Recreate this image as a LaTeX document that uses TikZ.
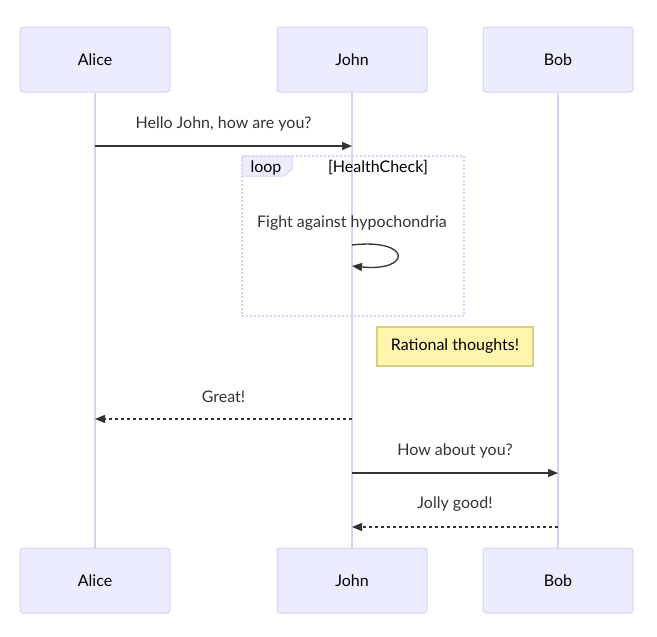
\documentclass[tikz,border=0pt]{standalone}
\usepackage{fontspec}
\setmainfont{Lato}
\usetikzlibrary{arrows.meta,positioning}

\definecolor{actfill}{HTML}{ECECFF}
\definecolor{actline}{HTML}{D9D0F3}
\definecolor{notefill}{HTML}{FFF5AD}
\definecolor{noteline}{HTML}{D3CF85}
\definecolor{msgcol}{HTML}{333333}

\tikzset{
  actor/.style={draw=actline, fill=actfill, rounded corners=3pt, line width=1pt,
    minimum width=150pt, minimum height=65pt, font=\fontsize{16}{19}\selectfont},
  lifeline/.style={draw=actline, line width=1.2pt},
  msg/.style={draw=msgcol, line width=1.3pt, -{Triangle[length=10pt,width=8pt]}},
  reply/.style={msg, dash pattern=on 3pt off 3pt},
  msglabel/.style={text=msgcol, font=\fontsize{16}{19}\selectfont, yshift=-1.5pt},
  loopline/.style={draw=actline, line width=1.5pt, dash pattern=on 2pt off 2pt},
  notebox/.style={draw=noteline, fill=notefill, line width=1.2pt,
    minimum width=156pt, minimum height=39pt, font=\fontsize{16}{19}\selectfont}
}

\begin{document}
\begin{tikzpicture}[x=1pt, y=-1pt]
    \useasboundingbox (0,0) rectangle (657,637);

    % Actors
    \foreach \name/\x/\label in {alice/95/Alice, john/352/John, bob/558/Bob}{
      \node[actor] (\name) at (\x,59.5) {\raisebox{-1pt}{\label}};
      \node[actor] (\name bot) at (\x,580.5) {\raisebox{-1pt}{\label}};
    }

    % Lifelines
    \foreach \name in {alice, john, bob}
    \draw[lifeline] (\name) -- (\name bot);

    % Loop box
    \draw[loopline] (242,156) rectangle (464,316);
    \draw[draw=actline, fill=actfill, line width=1pt] (242,156) -- (292,156) -- (292,169) -- (284,176) -- (242,176) -- cycle;
    \node[msglabel, text=black] (looptag) at (266,166.5) {loop};
    \node[msglabel, text=black] (loopcond) at (378,166.5) {[HealthCheck]};

    % Self message
    \node[msglabel] (m2) at (352,222) {Fight against hypochondria};
    \coordinate (selfa) at (john |- 0,245);
    \coordinate (selfb) at (john |- 0,266);
    \draw[msg] (selfa) .. controls (412,238) and (412,272) .. (selfb);

    % Note
    \node[notebox] (note) at (455,346.5) {\raisebox{-1.5pt}{Rational thoughts!}};

    % Messages
    \node[msglabel] (m1) at (223.5,122) {Hello John, how are you?};
    \draw[msg] (alice |- 0,146) -- (john |- 0,146);

    \node[msglabel] (m3) at (223.5,395) {Great!};
    \draw[reply] (john |- 0,419) -- (alice |- 0,419);

    \node[msglabel] (m4) at (455,449) {How about you?};
    \draw[msg] (john |- 0,473) -- (bob |- 0,473);

    \node[msglabel] (m5) at (455,503) {Jolly good!};
    \draw[reply] (bob |- 0,527) -- (john |- 0,527);
\end{tikzpicture}
\end{document}
